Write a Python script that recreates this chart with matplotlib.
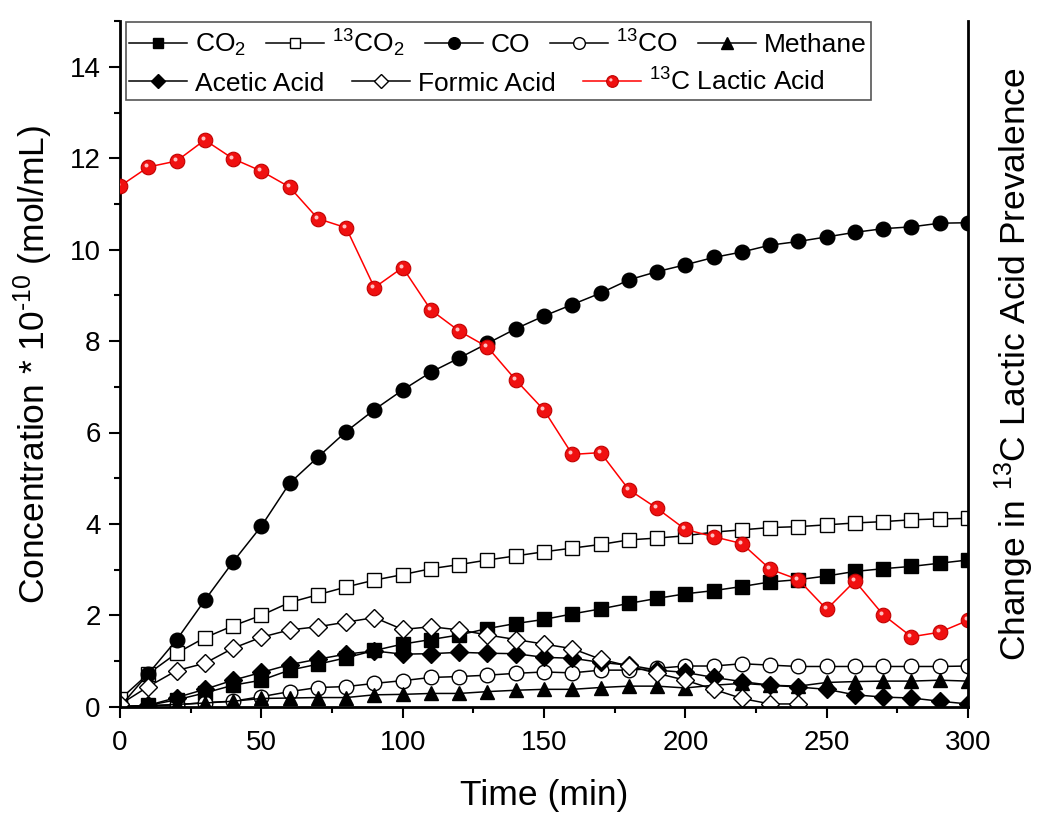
import matplotlib
matplotlib.use("Agg")
import matplotlib.pyplot as plt
from matplotlib.path import Path
from matplotlib.patches import Rectangle
from matplotlib.ticker import MultipleLocator
from matplotlib.legend_handler import HandlerTuple

plt.rcParams["font.family"] = ["Liberation Sans", "DejaVu Sans"]
plt.rcParams["mathtext.fontset"] = "custom"
plt.rcParams["mathtext.rm"] = "Liberation Sans"
plt.rcParams["mathtext.it"] = "Liberation Sans:italic"
plt.rcParams["mathtext.bf"] = "Liberation Sans:bold"

# =============================
# DATA
# =============================
time = [0, 10, 20, 30, 40, 50, 60, 70, 80, 90, 100, 110, 120, 130, 140, 150,
        160, 170, 180, 190, 200, 210, 220, 230, 240, 250, 260, 270, 280, 290, 300]
time_formic = time[:25]

co2 = [0.0, 0.03, 0.15, 0.30, 0.47, 0.58, 0.80, 0.93, 1.07, 1.23, 1.37, 1.47, 1.57,
       1.71, 1.82, 1.91, 2.03, 2.14, 2.26, 2.37, 2.47, 2.54, 2.63, 2.73, 2.78, 2.86,
       2.96, 3.02, 3.07, 3.14, 3.21]
co2_13 = [0.16, 0.72, 1.17, 1.51, 1.77, 2.00, 2.28, 2.45, 2.62, 2.77, 2.89, 3.02,
          3.11, 3.21, 3.30, 3.39, 3.47, 3.55, 3.65, 3.69, 3.74, 3.82, 3.87, 3.92,
          3.94, 3.98, 4.02, 4.05, 4.09, 4.11, 4.12]
co = [0.0, 0.72, 1.46, 2.33, 3.17, 3.95, 4.89, 5.46, 6.02, 6.50, 6.93, 7.32, 7.63,
      7.95, 8.27, 8.55, 8.80, 9.05, 9.34, 9.52, 9.67, 9.83, 9.95, 10.10, 10.18,
      10.28, 10.38, 10.46, 10.50, 10.58, 10.59]
co_13 = [0.0, 0.02, 0.04, 0.09, 0.12, 0.22, 0.33, 0.42, 0.44, 0.51, 0.57, 0.64, 0.66,
         0.69, 0.73, 0.76, 0.74, 0.80, 0.80, 0.84, 0.89, 0.89, 0.94, 0.91, 0.88,
         0.88, 0.88, 0.88, 0.88, 0.88, 0.89]
methane = [0.0, 0.02, 0.05, 0.08, 0.12, 0.18, 0.19, 0.20, 0.20, 0.26, 0.27, 0.29,
           0.29, 0.33, 0.36, 0.38, 0.38, 0.42, 0.45, 0.45, 0.41, 0.47, 0.51, 0.47,
           0.45, 0.53, 0.55, 0.56, 0.56, 0.58, 0.56]
acetic = [0.0, 0.03, 0.20, 0.38, 0.58, 0.75, 0.92, 1.04, 1.15, 1.22, 1.15, 1.16,
          1.19, 1.17, 1.16, 1.08, 1.06, 0.97, 0.91, 0.80, 0.75, 0.64, 0.55, 0.47,
          0.43, 0.38, 0.26, 0.21, 0.19, 0.12, 0.06]
formic = [0.05, 0.44, 0.79, 0.95, 1.28, 1.52, 1.68, 1.75, 1.85, 1.95, 1.69, 1.75,
          1.68, 1.57, 1.47, 1.37, 1.27, 1.04, 0.89, 0.73, 0.58, 0.38, 0.18, 0.06, 0.06]
lactic_13c = [11.39, 11.81, 11.94, 12.40, 11.99, 11.72, 11.37, 10.68, 10.48, 9.17,
              9.61, 8.68, 8.22, 7.87, 7.15, 6.49, 5.52, 5.56, 4.75, 4.34, 3.88, 3.72,
              3.57, 3.01, 2.78, 2.13, 2.75, 2.01, 1.53, 1.63, 1.89]

# =============================
# FIGURE
# =============================
fig = plt.figure(figsize=(10.39, 8.15), dpi=100)
ax = fig.add_axes([120 / 1039, 1 - 706.7 / 815, 848 / 1039, 685.5 / 815])
ax2 = ax.twinx()

ms = 10.5
kw = dict(color="black", lw=1.1, markeredgewidth=1.0, markeredgecolor="black")

h_co2, = ax.plot(time, co2, marker="s", ms=ms - 1, markerfacecolor="black", **kw)
h_co2_13, = ax.plot(time, co2_13, marker="s", ms=ms - 1, markerfacecolor="white", **kw)
h_co, = ax.plot(time, co, marker="o", ms=ms, markerfacecolor="black", **kw)
h_co_13, = ax.plot(time, co_13, marker="o", ms=ms, markerfacecolor="white", **kw)
h_ch4, = ax.plot(time, methane, marker="^", ms=ms, markerfacecolor="black", **kw)
h_ace, = ax.plot(time, acetic, marker="D", ms=ms - 1.5, markerfacecolor="black", **kw)
h_for, = ax.plot(time_formic, formic, marker="D", ms=ms - 1.5, markerfacecolor="white", **kw)

# red "sphere" markers: red disc + small offset highlight
spot = Path.circle(center=(-1.0, 1.0), radius=1.0)
h_lac, = ax2.plot(time, lactic_13c, color="red", lw=1.1, marker="o", ms=ms,
                  markerfacecolor="#f01010", markeredgecolor="#c00000",
                  markeredgewidth=0.8)
h_lac_hi, = ax2.plot(time, lactic_13c, ls="none", marker=spot, ms=ms * 0.55,
                     markerfacecolor="#ffc0c0", markeredgewidth=0)

# =============================
# AXES STYLE
# =============================
for a in (ax, ax2):
    a.set_xlim(0, 300)
    a.set_ylim(0, 15)
    a.spines["top"].set_visible(False)

ax.spines["right"].set_visible(False)
ax2.spines["left"].set_visible(False)
ax2.spines["bottom"].set_visible(False)
ax.spines["left"].set_linewidth(2)
ax.spines["bottom"].set_linewidth(2)
ax2.spines["right"].set_linewidth(2)
ax2.set_yticks([])

ax.xaxis.set_major_locator(MultipleLocator(50))
ax.xaxis.set_minor_locator(MultipleLocator(25))
ax.yaxis.set_major_locator(MultipleLocator(2))
ax.yaxis.set_minor_locator(MultipleLocator(1))
ax.tick_params(which="major", direction="out", length=8, width=1.5, labelsize=20)
ax.tick_params(which="minor", direction="out", length=4.5, width=1.5)
ax.tick_params(axis="x", which="major", pad=9)
ax.tick_params(axis="y", which="major", pad=6)

ax.set_xlabel("Time (min)", fontsize=25.5, labelpad=16)
ax.set_ylabel("Concentration * 10$^{\u2010 10}$ (mol/mL)", fontsize=25.5)
ax.yaxis.set_label_coords(-0.077, 0.5)
ax2.set_ylabel("Change in $^{13}$C Lactic Acid Prevalence", fontsize=25.5, labelpad=18)

# =============================
# LEGEND (two rows, one frame)
# =============================
leg_kw = dict(loc="center left", bbox_transform=fig.transFigure, frameon=False,
              fontsize=19, handlelength=2.2, handletextpad=0.3,
              borderpad=0, borderaxespad=0, markerscale=0.8,
              handler_map={tuple: HandlerTuple(ndivide=1)})

leg1 = ax2.legend([h_co2, h_co2_13, h_co, h_co_13, h_ch4],
                  ["CO$_2$", "$^{13}$CO$_2$", "CO", "$^{13}$CO", "Methane"],
                  ncol=5, columnspacing=0.76,
                  bbox_to_anchor=(129 / 1039, 1 - 43 / 815), **leg_kw)
ax2.add_artist(leg1)
leg2 = ax2.legend([h_ace, h_for, (h_lac, h_lac_hi)],
                  ["Acetic Acid", "Formic Acid", "$^{13}$C Lactic Acid"],
                  ncol=3, columnspacing=1.05,
                  bbox_to_anchor=(129 / 1039, 1 - 82 / 815), **leg_kw)

fig.patches.append(Rectangle((126 / 1039, 1 - 100 / 815), 745 / 1039, 78 / 815,
                             transform=fig.transFigure, fill=False,
                             edgecolor="#555555", lw=1.2))

fig.savefig("out.png", dpi=100)
